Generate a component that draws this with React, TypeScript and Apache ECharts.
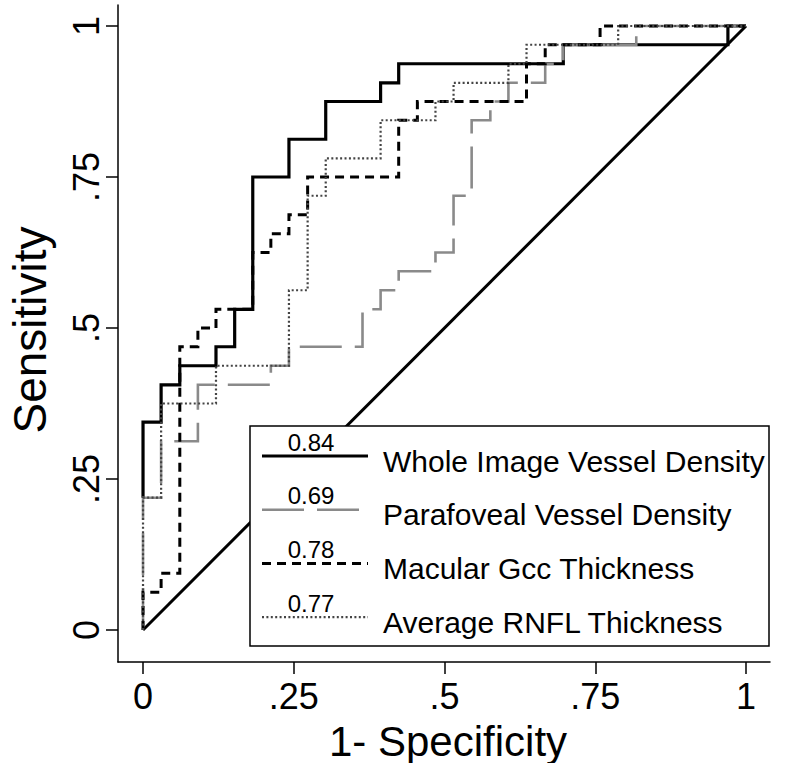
import React, { useEffect, useRef } from "react";
import * as echarts from "echarts";

// ---- data ----
const tickValues = [0, 0.25, 0.5, 0.75, 1];
const tickLabels = ["0", ".25", ".5", ".75", "1"];

const xTitle = "1- Specificity";
const yTitle = "Sensitivity";

const seriesNames = [
  "Whole Image Vessel Density",
  "Parafoveal Vessel Density",
  "Macular Gcc Thickness",
  "Average RNFL Thickness",
];
const aucLabels = ["0.84", "0.69", "0.78", "0.77"];

// ROC corner points (1-specificity, sensitivity); drawn with step "start"
const wholeFpr = [0, 0.03, 0.061, 0.121, 0.152, 0.182, 0.242, 0.303, 0.394, 0.424, 0.697, 0.97, 1];
const wholeTpr = [0.219, 0.344, 0.406, 0.4375, 0.469, 0.531, 0.75, 0.8125, 0.875, 0.906, 0.9375, 0.969, 1];

const paraFpr = [0, 0.03, 0.091, 0.212, 0.242, 0.364, 0.394, 0.424, 0.485, 0.515, 0.545, 0.576, 0.606, 0.667, 0.697, 0.818, 1];
const paraTpr = [0, 0.219, 0.3125, 0.406, 0.4375, 0.469, 0.531, 0.5625, 0.594, 0.625, 0.719, 0.844, 0.875, 0.906, 0.9375, 0.969, 1];

const gccFpr = [0, 0.03, 0.061, 0.091, 0.121, 0.182, 0.212, 0.242, 0.273, 0.424, 0.455, 0.636, 0.667, 0.758, 1];
const gccTpr = [0, 0.0625, 0.094, 0.469, 0.5, 0.531, 0.625, 0.656, 0.6875, 0.75, 0.844, 0.875, 0.9375, 0.969, 1];

const rnflFpr = [0, 0.03, 0.121, 0.242, 0.273, 0.303, 0.394, 0.485, 0.515, 0.606, 0.636, 0.788, 1];
const rnflTpr = [0, 0.219, 0.375, 0.4375, 0.5625, 0.719, 0.781, 0.844, 0.875, 0.906, 0.9375, 0.969, 1];

const refX = [0, 1];
const refY = [0, 1];

// ---- styling ----
const FONT = "'Liberation Sans', Arial, Helvetica, sans-serif";
const lineStyles = [
  { color: "#000000", width: 3.2, type: "solid" as any },
  { color: "#8a8a8a", width: 2.6, type: [42, 13] as any },
  { color: "#000000", width: 3, type: [9, 6] as any },
  { color: "#444444", width: 2.2, type: [2, 2.4] as any },
];

const zip = (xs: number[], ys: number[]) => xs.map((x, i) => [x, ys[i]]);

const labelFor = (v: number) => {
  let best = 0;
  tickValues.forEach((t, i) => {
    if (Math.abs(t - v) < Math.abs(tickValues[best] - v)) best = i;
  });
  return tickLabels[best];
};

export default function App() {
  const ref = useRef<HTMLDivElement>(null);

  useEffect(() => {
    if (!ref.current) return;
    const chart = echarts.init(ref.current, undefined, { renderer: "svg" });

    const curves = [
      zip(wholeFpr, wholeTpr),
      zip(paraFpr, paraTpr),
      zip(gccFpr, gccTpr),
      zip(rnflFpr, rnflTpr),
    ];

    const series: any[] = curves.map((data, i) => ({
      name: seriesNames[i],
      type: "line",
      step: "start",
      data,
      showSymbol: false,
      symbol: "none",
      silent: true,
      lineStyle: { ...lineStyles[i], cap: "butt", join: "miter" },
      z: 2 + i,
    }));
    series.push({
      name: "reference",
      type: "line",
      data: zip(refX, refY),
      showSymbol: false,
      symbol: "none",
      silent: true,
      lineStyle: { color: "#000", width: 3, type: "solid" },
      z: 1,
    });

    // legend box (drawn as graphics)
    const boxX = 250, boxY = 426, boxW = 519, boxH = 220;
    const graphics: any[] = [
      {
        type: "rect",
        shape: { x: boxX, y: boxY, width: boxW, height: boxH },
        style: { fill: "#fff", stroke: "#000", lineWidth: 1.5 },
        z: 100,
      },
      {
        type: "text",
        x: 448,
        y: 741,
        style: {
          text: xTitle,
          fontSize: 42,
          fontFamily: FONT,
          fill: "#000",
          align: "center",
          verticalAlign: "middle",
          textAlign: "center",
          textVerticalAlign: "middle",
        },
        z: 101,
      },
      {
        type: "text",
        x: 30,
        y: 330,
        rotation: Math.PI / 2,
        style: {
          text: yTitle,
          fontSize: 46,
          fontFamily: FONT,
          fill: "#000",
          align: "center",
          verticalAlign: "middle",
          textAlign: "center",
          textVerticalAlign: "middle",
        },
        z: 101,
      },
    ];
    seriesNames.forEach((name, i) => {
      const ly = 456 + i * 53.7;
      const st = lineStyles[i];
      graphics.push({
        type: "line",
        shape: { x1: 262, y1: ly, x2: 368, y2: ly },
        style: {
          stroke: st.color,
          lineWidth: st.width,
          lineDash: Array.isArray(st.type) ? st.type : null,
        },
        z: 101,
      });
      graphics.push({
        type: "text",
        x: 311,
        y: ly - 14,
        style: {
          text: aucLabels[i],
          fontSize: 24,
          fontFamily: FONT,
          fill: "#000",
          align: "center",
          verticalAlign: "middle",
          textAlign: "center",
          textVerticalAlign: "middle",
        },
        z: 101,
      });
      graphics.push({
        type: "text",
        x: 383,
        y: ly + 5,
        style: {
          text: name,
          fontSize: 30,
          fontFamily: FONT,
          fill: "#000",
          align: "left",
          verticalAlign: "middle",
          textAlign: "left",
          textVerticalAlign: "middle",
        },
        z: 101,
      });
    });

    const axisCommon = {
      type: "value",
      splitLine: { show: false },
      axisLine: { show: true, onZero: false, lineStyle: { color: "#000", width: 1.5 } },
      axisTick: {
        show: true,
        length: 12,
        customValues: tickValues,
        lineStyle: { color: "#000", width: 1.5 },
      },
    };

    chart.setOption({
      animation: false,
      backgroundColor: "#ffffff",
      grid: { left: 118, right: 30, top: 5, bottom: 101, containLabel: false },
      xAxis: {
        ...axisCommon,
        min: -0.0415,
        max: 1.0398,
        axisLabel: {
          customValues: tickValues,
          formatter: (v: number) => labelFor(v),
          fontSize: 36,
          fontFamily: FONT,
          color: "#000",
          margin: 16,
        },
      },
      yAxis: {
        ...axisCommon,
        min: -0.053,
        max: 1.0348,
        axisLabel: {
          customValues: tickValues,
          formatter: (v: number) => labelFor(v),
          fontSize: 36,
          fontFamily: FONT,
          color: "#000",
          margin: 14,
          rotate: 90,
        },
      },
      series,
      graphic: graphics,
    });

    return () => chart.dispose();
  }, []);

  return (
    <div
      ref={ref}
      style={{ position: "fixed", left: 0, top: 0, width: 800, height: 763, background: "#fff" }}
    />
  );
}
